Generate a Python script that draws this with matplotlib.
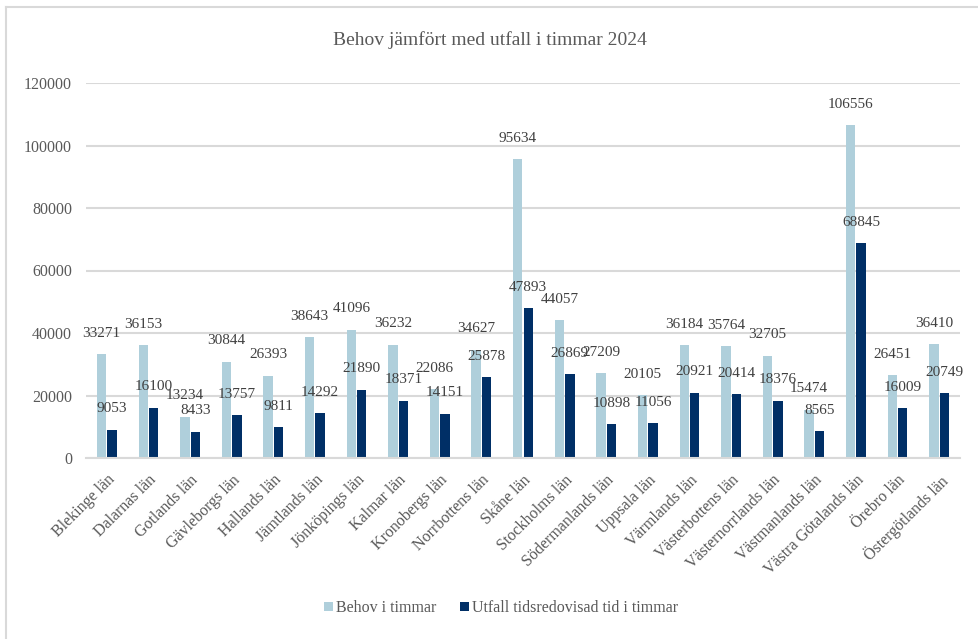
import matplotlib
matplotlib.use("Agg")
import matplotlib.pyplot as plt
from matplotlib.lines import Line2D
import numpy as np

categories = ["Blekinge län", "Dalarnas län", "Gotlands län", "Gävleborgs län", "Hallands län",
              "Jämtlands län", "Jönköpings län", "Kalmar län", "Kronobergs län", "Norrbottens län",
              "Skåne län", "Stockholms län", "Södermanlands län", "Uppsala län", "Värmlands län",
              "Västerbottens län", "Västernorrlands län", "Västmanlands län", "Västra Götalands län",
              "Örebro län", "Östergötlands län"]
behov = [33271, 36153, 13234, 30844, 26393, 38643, 41096, 36232, 22086, 34627, 95634,
         44057, 27209, 20105, 36184, 35764, 32705, 15474, 106556, 26451, 36410]
utfall = [9053, 16100, 8433, 13757, 9811, 14292, 21890, 18371, 14151, 25878, 47893,
          26869, 10898, 11056, 20921, 20414, 18376, 8565, 68845, 16009, 20749]
yticks = [0, 20000, 40000, 60000, 80000, 100000, 120000]

plt.rcParams['font.family'] = ['Liberation Serif', 'DejaVu Serif']
TXT = '#595959'
LIGHT = '#AFCFDB'
DARK = '#002F66'

fig = plt.figure(figsize=(9.79, 6.39), dpi=100)
ax = fig.add_axes([86/979, 1-458/639, (960-86)/979, (458-83)/639])

x = np.arange(len(categories))
w = 0.225
b1 = ax.bar(x - 0.125, behov, w, color=LIGHT, label='Behov i timmar', zorder=2)
b2 = ax.bar(x + 0.125, utfall, w, color=DARK, label='Utfall tidsredovisad tid i timmar', zorder=2)

for xi, v in zip(x - 0.125, behov):
    ax.annotate(str(v), (xi, v), xytext=(0, 15), textcoords='offset points',
                ha='center', va='center', fontsize=11, color='#404040', zorder=3)
for xi, v in zip(x + 0.125, utfall):
    ax.annotate(str(v), (xi, v), xytext=(0, 15), textcoords='offset points',
                ha='center', va='center', fontsize=11, color='#404040', zorder=3)

ax.set_xlim(-0.5, len(categories) - 0.5)
ax.set_ylim(0, 120000)
ax.set_yticks(yticks)
ax.set_yticklabels([str(t) for t in yticks], fontsize=11.5, color=TXT)
ax.yaxis.grid(True, color='#D9D9D9', linewidth=1.5, zorder=0)
ax.set_axisbelow(True)
for s in ['top', 'right', 'left']:
    ax.spines[s].set_visible(False)
ax.spines['bottom'].set_color('#D9D9D9')
ax.spines['bottom'].set_linewidth(1.5)
ax.tick_params(axis='y', length=0, pad=10)
ax.tick_params(axis='x', length=0, pad=10)
ax.set_xticks(x)
ax.set_xticklabels(categories, rotation=45, ha='right', rotation_mode='anchor',
                   fontsize=11.5, color=TXT)

fig.text(0.5, 1 - 40/639, 'Behov jämfört med utfall i timmar 2024', ha='center', va='center',
         fontsize=14, color=TXT)

fig.legend(handles=[b1, b2], loc='center', bbox_to_anchor=(0.512, 1 - 608/639), ncol=2,
           frameon=False, fontsize=11.5, handlelength=0.55, handleheight=0.55,
           handletextpad=0.2, columnspacing=1.5, labelcolor=TXT)

# chart border
fig.add_artist(Line2D([6/979, 1], [1 - 7/639, 1 - 7/639], color='#D9D9D9', lw=1.5,
                      transform=fig.transFigure))
fig.add_artist(Line2D([6/979, 6/979], [0, 1 - 7/639], color='#D9D9D9', lw=1.5,
                      transform=fig.transFigure))

fig.savefig('out.png', dpi=100, facecolor='white')
